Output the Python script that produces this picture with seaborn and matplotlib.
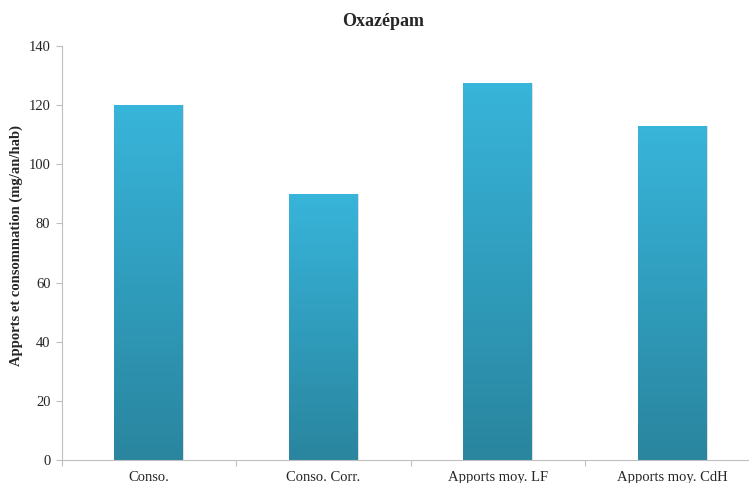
import numpy as np
import pandas as pd
import matplotlib
matplotlib.use("Agg")
import matplotlib.pyplot as plt
import seaborn as sns
from matplotlib.colors import LinearSegmentedColormap

# data
categories = ["Conso.", "Conso. Corr.", "Apports moy. LF", "Apports moy. CdH"]
values = [120, 90, 127.5, 113]
yticks = [0, 20, 40, 60, 80, 100, 120, 140]

df = pd.DataFrame({"cat": categories, "val": values})

sns.set_style("white")
plt.rcParams["font.family"] = ["Liberation Serif", "DejaVu Serif"]

fig = plt.figure(figsize=(7.49, 4.83), dpi=100)
ax = fig.add_axes([61.6 / 749, 23 / 483, 687.4 / 749, 414 / 483])

sns.barplot(data=df, x="cat", y="val", width=0.395, color="#33a9cc", ax=ax, saturation=1)

# vertical gradient: light blue at top, darker teal at the bottom
cmap = LinearSegmentedColormap.from_list("grad", ["#2a859e", "#309dbd", "#38b5da"])
grad = np.linspace(0, 1, 256).reshape(-1, 1)
for p in ax.patches:
    x0, y0 = p.get_x(), p.get_y()
    w, h = p.get_width(), p.get_height()
    im = ax.imshow(grad, cmap=cmap, aspect="auto", origin="lower",
                   extent=[x0, x0 + w, y0, y0 + h], zorder=p.get_zorder())
    im.set_clip_path(p)
    p.set_facecolor("none")
    p.set_edgecolor("#d9d9d9")
    p.set_linewidth(0.6)

ax.set_yticks(yticks)
# category separators (set before the limits, set_xticks can widen them)
ax.set_xticks([-0.5, 0.5, 1.5, 2.5, 3.5], minor=True)
ax.set_xlim(-0.5, 3.439)
ax.set_ylim(0, 140)

for s in ["top", "right"]:
    ax.spines[s].set_visible(False)
for s in ["left", "bottom"]:
    ax.spines[s].set_color("#bfbfbf")
    ax.spines[s].set_linewidth(0.8)

ax.tick_params(axis="y", left=True, direction="out", length=4, width=0.8,
               color="#bfbfbf", labelsize=10.5, pad=4)
ax.tick_params(axis="x", which="major", bottom=True, length=0, labelsize=10.5, pad=8)
ax.tick_params(axis="x", which="minor", bottom=True, direction="out", length=4,
               width=0.8, color="#bfbfbf")

ax.set_xlabel("")
ax.set_ylabel("Apports et consommation (mg/an/hab)", fontsize=10.5, fontweight="bold")
ax.yaxis.set_label_coords(-0.056, 0.517)
fig.text(383 / 749, 1 - 21 / 483, "Oxazépam", ha="center", va="center",
         fontsize=13, fontweight="bold")

fig.savefig("out.png", dpi=100)
